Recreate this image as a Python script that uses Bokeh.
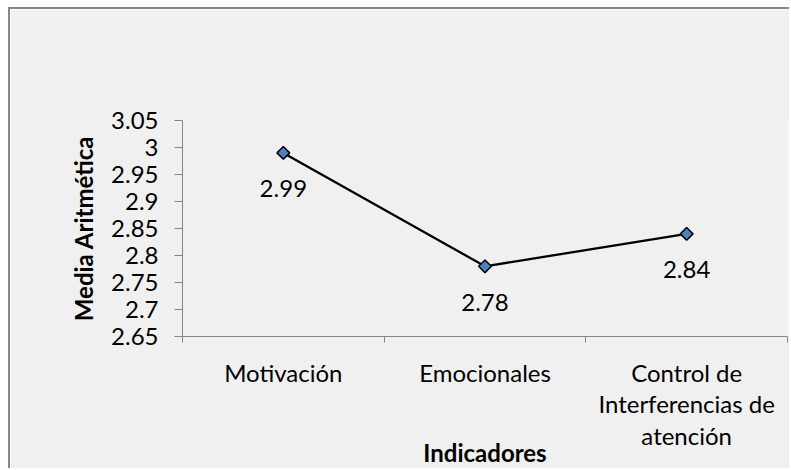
from bokeh.plotting import figure
from bokeh.models import Range1d, FixedTicker
from bokeh.embed import file_html
from bokeh.resources import INLINE
from bokeh.core.properties import value

# ---- data ----
categories = ["Motivación", "Emocionales", "Control de Interferencias de atención"]
category_labels = ["Motivación", "Emocionales", "Control de\nInterferencias de\natención"]
means = [2.99, 2.78, 2.84]
mean_labels = ["2.99", "2.78", "2.84"]
y_ticks = [2.65, 2.7, 2.75, 2.8, 2.85, 2.9, 2.95, 3.0, 3.05]
y_tick_labels = ["2.65", "2.7", "2.75", "2.8", "2.85", "2.9", "2.95", "3", "3.05"]

FONT = "Lato"
FS = "24px"
BG = "#f0f0f0"
AXIS = "#868686"

# category slots: each category occupies one unit, marks sit in the slot centre
n = len(categories)
xpos = [categories.index(c) + 0.5 for c in categories]

p = figure(
    width=781, height=461,
    x_range=Range1d(0, n),
    y_range=Range1d(y_ticks[0], y_ticks[-1]),
    output_backend="svg", toolbar_location=None,
    min_border_left=172, min_border_right=4, min_border_top=111, min_border_bottom=132,
)
p.margin = (7, 0, 0, 8)
p.styles = {"border-left": f"2px solid {AXIS}", "border-top": f"2px solid {AXIS}"}
p.background_fill_color = BG
p.border_fill_color = BG
p.outline_line_color = None
p.xgrid.visible = False
p.ygrid.visible = False

# y axis
ya = p.yaxis[0]
ya.ticker = FixedTicker(ticks=y_ticks, minor_ticks=[])
ya.major_label_overrides = {float(t): lab for t, lab in zip(y_ticks, y_tick_labels)}
ya.axis_line_color = AXIS
ya.major_tick_line_color = AXIS
ya.major_tick_out = 8
ya.major_tick_in = 0
ya.minor_tick_line_color = None
ya.major_label_standoff = 16
ya.major_label_text_font = FONT
ya.major_label_text_font_size = FS
ya.major_label_text_color = "#000000"
ya.axis_label = "Media Aritmética"
ya.axis_label_text_font = FONT
ya.axis_label_text_font_style = "bold"
ya.axis_label_text_font_size = FS
ya.axis_label_text_color = "#000000"
ya.axis_label_standoff = 10

# x axis: ticks at category boundaries, labels at slot centres
xa = p.xaxis[0]
xa.ticker = FixedTicker(ticks=xpos, minor_ticks=list(range(n + 1)))
xa.major_label_overrides = {float(c): lab for c, lab in zip(xpos, category_labels)}
xa.axis_line_color = AXIS
xa.major_tick_line_color = None
xa.minor_tick_line_color = AXIS
xa.minor_tick_out = 6
xa.minor_tick_in = 0
xa.major_label_standoff = 15
xa.major_label_text_font = FONT
xa.major_label_text_font_size = FS
xa.major_label_text_line_height = 1.1
xa.major_label_text_color = "#000000"
xa.axis_label = "Indicadores"
xa.axis_label_text_font = FONT
xa.axis_label_text_font_style = "bold"
xa.axis_label_text_font_size = FS
xa.axis_label_text_color = "#000000"
xa.axis_label_standoff = -15

# series
p.line(x=xpos, y=means, line_color="#000000", line_width=2.3)
p.scatter(x=xpos, y=means, marker="square", size=9, angle=0.785398,
          fill_color="#4f81bd", line_color="#000000", line_width=1.5)
p.text(x=xpos, y=means, text=mean_labels, y_offset=36,
       text_align="center", text_baseline="middle",
       text_font=value(FONT), text_font_size=FS, text_color="#000000")

open("out.html", "w").write(file_html(p, INLINE))
